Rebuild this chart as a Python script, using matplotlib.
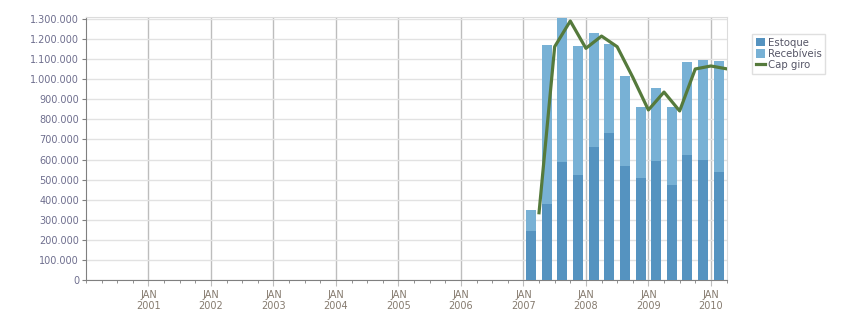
import matplotlib
matplotlib.use('Agg')
import matplotlib.pyplot as plt
from matplotlib.ticker import FuncFormatter, MultipleLocator

# quarterly data, Q1 2007 .. Q1 2010
years = [2007, 2007, 2007, 2007, 2008, 2008, 2008, 2008, 2009, 2009, 2009, 2009, 2010]
quarters = [1, 2, 3, 4, 1, 2, 3, 4, 1, 2, 3, 4, 1]
estoque = [244000, 378000, 588000, 523000, 662000, 732000, 568000, 508000,
           593000, 473000, 622000, 598000, 538000]
total = [350000, 1170000, 1305000, 1165000, 1230000, 1175000, 1016000, 862000,
         956000, 862000, 1086000, 1096000, 1091000]
recebiveis = [t - e for t, e in zip(total, estoque)]
cap_giro = [335000, 1162000, 1290000, 1154000, 1215000, 1162000, 1010000, 847000,
            936000, 842000, 1051000, 1066000, 1052000]
tick_years = list(range(2001, 2011))

c_est = '#5593c0'
c_rec = '#78b1d5'
c_cap = '#557a3c'

fig = plt.figure(figsize=(8.51, 3.13), dpi=100)
ax = fig.add_axes([86 / 851, 33 / 313, 640.5 / 851, 263 / 313])

# bars centred in their quarter, line points at quarter end
xb = [y + (q - 0.5) / 4 for y, q in zip(years, quarters)]
xl = [y + q / 4 for y, q in zip(years, quarters)]

b1 = ax.bar(xb, estoque, width=0.16, color=c_est, label='Estoque', zorder=3)
b2 = ax.bar(xb, recebiveis, width=0.16, bottom=estoque, color=c_rec, label='Recebíveis', zorder=3)
l1, = ax.plot(xl, cap_giro, color=c_cap, lw=2.3, label='Cap giro', zorder=4)

ax.set_xlim(2000, 2010.25)
ax.set_ylim(0, 1310000)

ax.yaxis.set_major_locator(MultipleLocator(100000))
ax.yaxis.set_major_formatter(FuncFormatter(lambda v, p: '{:,.0f}'.format(v).replace(',', '.')))
ax.set_xticks(tick_years)
ax.set_xticklabels(['JAN\n%d' % y for y in tick_years])
ax.set_xticks([y + q / 4 for y in range(2000, 2011) for q in range(4)
               if y + q / 4 <= 2010.25], minor=True)

ax.grid(axis='y', color='#e2e2e2', lw=1, zorder=0)
ax.grid(axis='x', which='major', color='#bdbdbd', lw=1, zorder=1)
ax.set_axisbelow(True)

for s in ['left', 'bottom']:
    ax.spines[s].set_color('#808080')
for s in ['top', 'right']:
    ax.spines[s].set_color('#dcdcdc')

ax.tick_params(axis='y', length=3, color='#808080', labelsize=7, labelcolor='#6e6e8e', pad=2)
ax.tick_params(axis='x', which='major', length=4, color='#bdbdbd', labelsize=7,
               labelcolor='#857a6e', pad=3)
ax.tick_params(axis='x', which='minor', length=2, color='#808080')

leg = ax.legend([b1, b2, l1], ['Estoque', 'Recebíveis', 'Cap giro'],
                loc='upper left', bbox_to_anchor=(747 / 851, 1 - 29 / 313),
                bbox_transform=fig.transFigure, fontsize=7.3, frameon=True, fancybox=False,
                handlelength=0.9, handleheight=0.9, handletextpad=0.3, labelspacing=0.12,
                borderpad=0.35, labelcolor='#555566')
leg.get_frame().set_edgecolor('#d8d8d8')
leg.get_frame().set_linewidth(1)

fig.savefig('out.png', dpi=100)
